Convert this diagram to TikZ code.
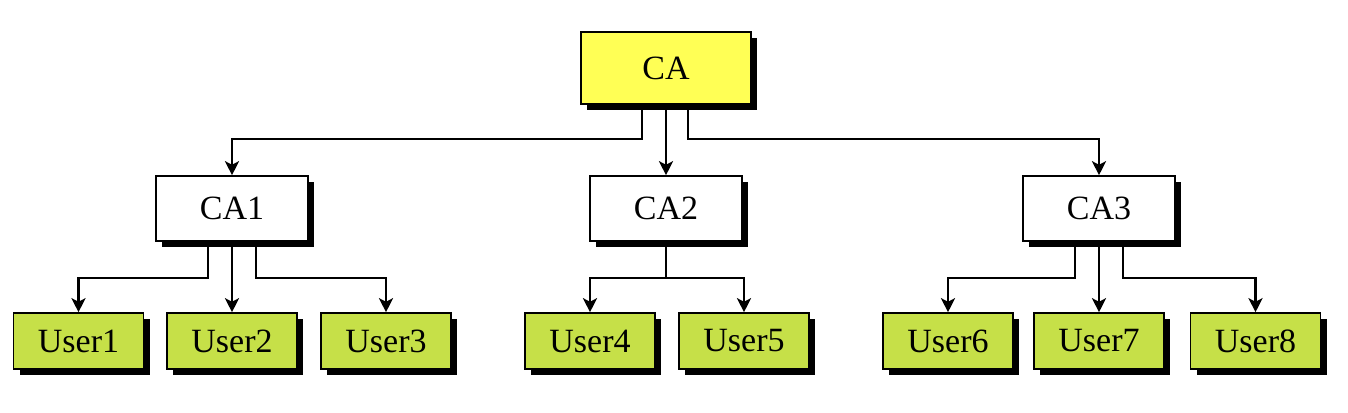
\documentclass[tikz,border=0pt]{standalone}
\usepackage{fontspec}
\setmainfont{Liberation Serif}
\usepackage{xcolor}
\usepackage{tikz}
\usetikzlibrary{calc, positioning, arrows.meta, shadows}
\definecolor{cayellow}{RGB}{255,255,85}
\definecolor{usergreen}{RGB}{198,224,72}
\tikzset{
	x = .5pt,
	y = -.5pt,
	line width = 1.3pt,
	font = \fontsize{17}{20}\selectfont,
	box/.style={
		draw,
		line width=.8pt,
		inner sep=0pt,
		drop shadow={shadow xshift=3pt, shadow yshift=-3pt, opacity=1, fill=black}
	},
	root/.style={
		box,
		fill=cayellow,
		minimum width=85pt,
		minimum height=36pt
	},
	sub/.style={
		box,
		fill=white,
		minimum width=76pt,
		minimum height=32.5pt
	},
	user/.style={
		box,
		fill=usergreen,
		minimum width=65pt,
		minimum height=28pt
	},
	edge/.style={
		-{Stealth[length=7pt, width=7pt, inset=1.8pt]},
		line width=1.3pt
	}
}

\begin{document}
\begin{tikzpicture}
	\useasboundingbox (0,0) rectangle (1348,412);

	\node[root] (ca) at (666,68) {CA};

	\node[sub] (ca1) at (232,208.5) {CA1};
	\node[sub] (ca2) at (666,208.5) {CA2};
	\node[sub] (ca3) at (1099,208.5) {CA3};

	\node[user] (u1) at (78.5,341) {User1};
	\node[user] (u2) at (232,341) {User2};
	\node[user] (u3) at (386,341) {User3};
	\node[user] (u4) at (590,341) {User4};
	\node[user] (u5) at (744,341) {User5};
	\node[user] (u6) at (948,341) {User6};
	\node[user] (u7) at (1099,341) {User7};
	\node[user] (u8) at (1255.5,341) {User8};

	% CA to the second level
	\draw[edge] ([xshift=-12pt]ca.south) -- ++(0,34) -| (ca1.north);
	\draw[edge] (ca.south) -- (ca2.north);
	\draw[edge] ([xshift=11pt]ca.south) -- ++(0,34) -| (ca3.north);

	% CA1
	\draw[edge] ([xshift=-12pt]ca1.south) -- ++(0,36) -| (u1.north);
	\draw[edge] (ca1.south) -- (u2.north);
	\draw[edge] ([xshift=12pt]ca1.south) -- ++(0,36) -| (u3.north);

	% CA2
	\path (ca2.south) ++(0,36) coordinate (j2);
	\draw[edge] (ca2.south) -- (j2) -| (u4.north);
	\draw[edge] (j2) -| (u5.north);

	% CA3
	\draw[edge] ([xshift=-12pt]ca3.south) -- ++(0,36) -| (u6.north);
	\draw[edge] (ca3.south) -- (u7.north);
	\draw[edge] ([xshift=12pt]ca3.south) -- ++(0,36) -| (u8.north);
\end{tikzpicture}
\end{document}
